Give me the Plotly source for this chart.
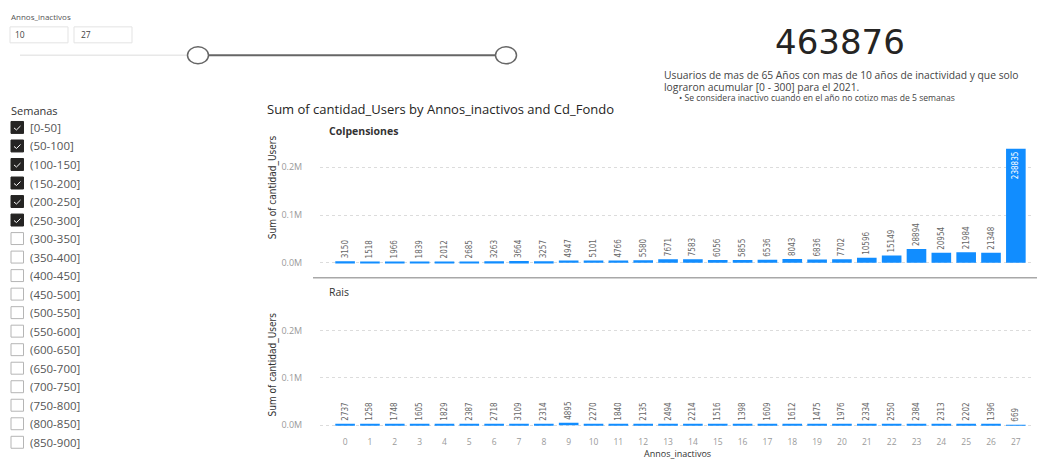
import plotly.graph_objects as go

W, H = 1037, 462

# ---- data ----
annos = list(range(28))
colpensiones = [3150, 1518, 1966, 1839, 2012, 2685, 3263, 3664, 3257, 4947, 5101, 4766, 5580, 7671,
                7583, 6056, 5855, 6536, 8043, 6836, 7702, 10596, 15149, 28894, 20954, 21984, 21348, 238835]
rais = [2737, 1258, 1748, 1605, 1829, 2387, 2718, 3109, 2314, 4895, 2270, 1840, 2135, 2494,
        2214, 1516, 1398, 1609, 1612, 1475, 1976, 2334, 2550, 2384, 2313, 2202, 1396, 669]
semanas = ["[0-50]", "(50-100]", "(100-150]", "(150-200]", "(200-250]", "(250-300]",
           "(300-350]", "(350-400]", "(400-450]", "(450-500]", "(500-550]", "(550-600]",
           "(600-650]", "(650-700]", "(700-750]", "(750-800]", "(800-850]", "(850-900]"]
semanas_checked = [True] * 6 + [False] * 12
y_ticks = [0, 100000, 200000]
y_ticktext = ["0.0M", "0.1M", "0.2M"]
total_users = "463876"
slider_min, slider_max = "10", "27"


def X(px):
    return px / W


def Y(py):
    return 1 - py / H


BAR = "#118DFF"
LABEL_FONT = "Liberation Sans Narrow, DejaVu Sans Condensed, Arial Narrow, sans-serif"
UI_FONT = "Open Sans, Noto Sans, sans-serif"

fig = go.Figure()


def bar_trace(vals, xa, ya, maxv_inside):
    pos = ["inside" if v >= maxv_inside else "outside" for v in vals]
    cols = ["white" if v >= maxv_inside else "#666666" for v in vals]
    return go.Bar(
        x=annos, y=vals, xaxis=xa, yaxis=ya,
        marker=dict(color=BAR, line=dict(width=0)),
        width=0.79,
        text=[str(v) for v in vals], texttemplate="%{text}",
        textposition=pos, textangle=-90,
        insidetextanchor="end",
        textfont=dict(family=LABEL_FONT, size=8, color=cols),
        constraintext="none", cliponaxis=False,
        hoverinfo="x+y", showlegend=False,
    )


fig.add_trace(bar_trace(colpensiones, "x", "y", 100000))
fig.add_trace(bar_trace(rais, "x2", "y2", 100000))

xdom = [X(320), X(1033)]
xrange = [-1.01, 27.69]

# top panel: 0 at 264px, 0.2M at 168px
top_bot, top_top = 270, 140
k1 = 96 / 200000
# bottom panel: 0 at 427px, 0.2M at 332px
bot_bot, bot_top = 431, 300
k2 = 95 / 200000

common_y = dict(
    tickvals=y_ticks, ticktext=y_ticktext,
    showgrid=True, gridcolor="#dcdcdc", griddash="dot", gridwidth=1,
    zeroline=False, showline=False,
    ticks="outside", ticklen=15, tickcolor="rgba(0,0,0,0)",
    tickfont=dict(family=UI_FONT, size=9, color="#9a9a9a"),
)

fig.update_layout(
    width=W, height=H,
    margin=dict(l=0, r=0, t=0, b=0),
    paper_bgcolor="white", plot_bgcolor="white",
    bargap=0.21,
    xaxis=dict(domain=xdom, range=xrange, showticklabels=False, showgrid=False,
               zeroline=False, anchor="y", tickvals=annos),
    xaxis2=dict(domain=xdom, range=xrange, showgrid=False, zeroline=False, anchor="y2",
                tickvals=annos, ticks="outside", ticklen=5, tickcolor="rgba(0,0,0,0)",
                tickfont=dict(family=UI_FONT, size=8.5, color="#9a9a9a")),
    yaxis=dict(domain=[Y(top_bot), Y(top_top)],
               range=[-(top_bot - 264) / k1, (264 - top_top) / k1], anchor="x", **common_y),
    yaxis2=dict(domain=[Y(bot_bot), Y(bot_top)],
                range=[-(bot_bot - 427) / k2, (427 - bot_top) / k2], anchor="x2", **common_y),
)

ann = []
shapes = []


def text(px, py, s, size, color="#252423", xanchor="left", family=UI_FONT, angle=0, bold=False):
    if bold:
        s = "<b>" + s + "</b>"
    ann.append(dict(x=X(px), y=Y(py), xref="paper", yref="paper", text=s, showarrow=False,
                    xanchor=xanchor, yanchor="middle", textangle=angle,
                    font=dict(family=family, size=size, color=color)))


# Slicer: Annos_inactivos
text(9, 17, "Annos_inactivos", 8, "#555555")
shapes.append(dict(type="rect", xref="paper", yref="paper", x0=X(10), x1=X(68), y0=Y(43), y1=Y(27),
                   line=dict(color="#e3e3e3", width=1), fillcolor="white"))
shapes.append(dict(type="rect", xref="paper", yref="paper", x0=X(74), x1=X(132), y0=Y(43), y1=Y(27),
                   line=dict(color="#e3e3e3", width=1), fillcolor="white"))
text(13, 35, slider_min, 8.5, "#444444")
text(79, 35, slider_max, 8.5, "#444444")
shapes.append(dict(type="line", xref="paper", yref="paper", x0=X(20), x1=X(187), y0=Y(55.5), y1=Y(55.5),
                   line=dict(color="#e8e8e8", width=1.5)))
shapes.append(dict(type="line", xref="paper", yref="paper", x0=X(208), x1=X(496), y0=Y(55.5), y1=Y(55.5),
                   line=dict(color="#666666", width=2)))
for cx in (198, 506):
    shapes.append(dict(type="circle", xref="paper", yref="paper", x0=X(cx - 10.5), x1=X(cx + 10.5),
                       y0=Y(64), y1=Y(47), line=dict(color="#666666", width=1.5),
                       fillcolor="white"))

# Card
text(840, 42, total_users, 34, "#252423", xanchor="center", family="DejaVu Sans, sans-serif")
text(662, 75, "Usuarios de mas de 65 Años con mas de 10 años de inactividad y que solo", 10.3, "#444444")
text(662, 87, "lograron acumular [0 - 300] para el 2021.", 10.3, "#444444")
text(677, 98, "• Se considera inactivo cuando en el año no cotizo mas de 5 semanas", 8.6, "#444444")

# Semanas slicer
text(9, 111, "Semanas", 11, "#333333")
row_y0, row_dy = 128, 18.6
for i, (lab, chk) in enumerate(zip(semanas, semanas_checked)):
    cy = row_y0 + i * row_dy
    shapes.append(dict(type="rect", xref="paper", yref="paper", x0=X(11), x1=X(23.5),
                       y0=Y(cy + 6), y1=Y(cy - 6),
                       line=dict(color="#252423" if chk else "#b5b5b5", width=1),
                       fillcolor="#252423" if chk else "white"))
    if chk:
        shapes.append(dict(type="path", xref="paper", yref="paper",
                           path=f"M {X(14)},{Y(cy + 0.5)} L {X(16.5)},{Y(cy + 2.5)} L {X(20.5)},{Y(cy - 1.5)}",
                           line=dict(color="white", width=1)))
    text(28, cy, lab, 11.5, "#555555")

# Chart title & panel headers
text(265, 109, "Sum of cantidad_Users by Annos_inactivos and Cd_Fondo", 13, "#252423")
text(327, 132, "Colpensiones", 10.5, "#333333", bold=True)
text(327, 293, "Rais", 10.5, "#333333")
text(273, 188, "Sum of cantidad_Users", 10, "#333333", xanchor="center", family=LABEL_FONT, angle=-90)
text(273, 366, "Sum of cantidad_Users", 10, "#333333", xanchor="center", family=LABEL_FONT, angle=-90)
text(677, 455.5, "Annos_inactivos", 9, "#333333", xanchor="center")

# panel divider
shapes.append(dict(type="line", xref="paper", yref="paper", x0=X(313), x1=X(1037), y0=Y(279), y1=Y(279),
                   line=dict(color="#a8a8a8", width=1.5)))

fig.update_layout(annotations=ann, shapes=shapes)
fig.write_html("out.html", config={"displayModeBar": False},
               post_script="document.body.style.margin='0';document.body.style.overflow='hidden';")
